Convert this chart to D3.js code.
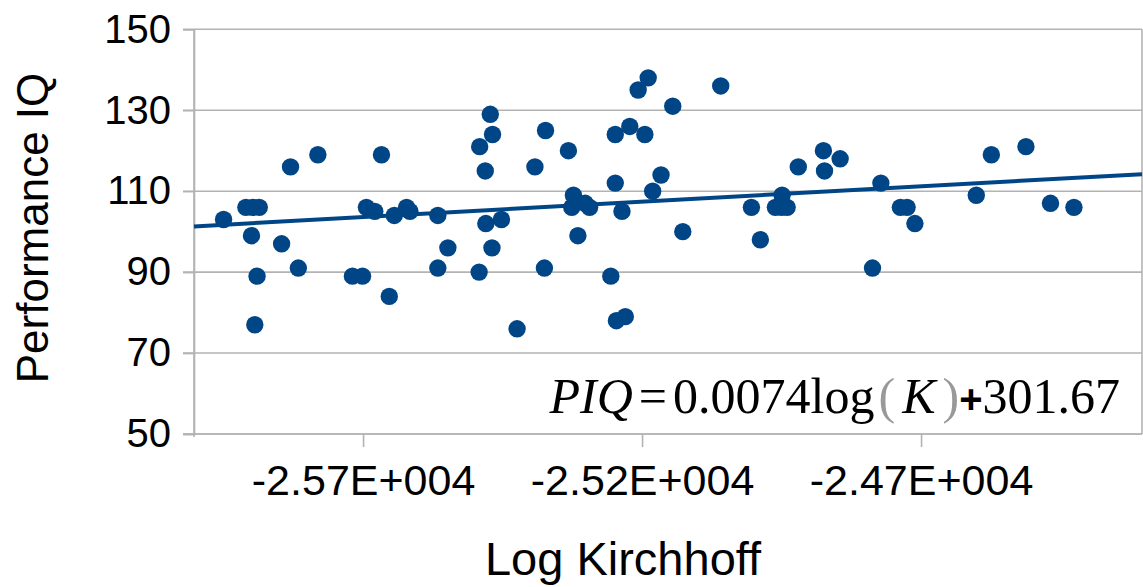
<!DOCTYPE html>
<html><head><meta charset="utf-8">
<script src="https://cdn.jsdelivr.net/npm/d3@7"></script>
<style>body{margin:0;background:#fff}</style>
</head><body>
<svg id="c" width="1143" height="587"></svg>
<script>
// ---- data ----
const logK = [-25950,-25910,-25898,-25886,-25900,-25890,-25894,-25846,-25830,-25816,
  -25781,-25719,-25701,-25694,-25679,-25667,-25653,-25644,-25622,-25616,
  -25566,-25566,-25548,-25492,-25491,-25481,-25480,-25472,-25468,-25469,
  -25452,-25424,-25392,-25375,-25373,-25332,-25323,-25326,-25315,-25302,
  -25294,-25256,-25248,-25248,-25246,-25236,-25230,-25222,-25207,-25195,
  -25189,-25181,-25166,-25145,-25127,-25059,-25004,-24988,-24961,-24950,
  -24949,-24940,-24920,-24875,-24873,-24845,-24787,-24772,-24737,-24725,
  -24711,-24601,-24574,-24512,-24468,-24426];
const piq = [103,106,106,106,99,89,77,97,116,91,
  119,89,89,106,105,119,84,104,106,105,
  104,91,96,90,121,115,102,129,124,96,
  103,76,116,91,125,120,109,106,99,107,
  106,89,112,124,78,105,79,126,135,124,
  138,110,114,131,100,136,106,98,106,106,
  109,106,116,120,115,118,91,112,106,106,
  102,109,119,121,107,106];
const xTicks = [-25700,-25200,-24700];
const xTickLabels = ["-2.57E+004","-2.52E+004","-2.47E+004"];
const yTicks = [50,70,90,110,130,150];
const trendX = [-26003,-24304];
const trendY = [101.3,114.2];
const xTitle = "Log Kirchhoff";
const yTitle = "Performance IQ";

// ---- layout ----
const L = 194, R = 1142, T = 29.3, B = 434;
const blue = "#004586", grid = "#b3b3b3";
const svg = d3.select("#c");
const x = d3.scaleLinear().domain([-26003,-24304]).range([L,R]);
const y = d3.scaleLinear().domain([50,150]).range([B,T]);

// horizontal gridlines (extend left as tick marks)
svg.append("g").selectAll("line").data(yTicks).join("line")
  .attr("x1", L-11).attr("x2", R).attr("y1", d=>y(d)).attr("y2", d=>y(d))
  .attr("stroke", grid).attr("stroke-width", 1.6);
// right border
svg.append("line").attr("x1",R).attr("x2",R).attr("y1",T).attr("y2",B)
  .attr("stroke",grid).attr("stroke-width",1.6);

// y axis
const ya = svg.append("g").attr("transform",`translate(${L},0)`)
  .call(d3.axisLeft(y).tickValues(yTicks).tickSize(11).tickPadding(12));
ya.select(".domain").attr("stroke",grid).attr("stroke-width",1.6);
ya.selectAll(".tick line").attr("stroke",grid).attr("stroke-width",1.6);
ya.selectAll("text").attr("font-family","Liberation Sans, Arial, sans-serif")
  .attr("font-size",40).attr("fill","#000");

// x axis
const xa = svg.append("g").attr("transform",`translate(0,${B})`)
  .call(d3.axisBottom(x).tickValues(xTicks).tickFormat((d,i)=>xTickLabels[i]).tickSize(13).tickPadding(17));
xa.select(".domain").remove();
xa.selectAll(".tick line").attr("stroke",grid).attr("stroke-width",1.6);
xa.selectAll("text").attr("font-family","Liberation Sans, Arial, sans-serif")
  .attr("font-size",43).attr("fill","#000");
svg.append("line").attr("x1",L-11).attr("x2",R).attr("y1",B).attr("y2",B)
  .attr("stroke",grid).attr("stroke-width",1.6);
svg.append("line").attr("x1",L).attr("x2",L).attr("y1",T).attr("y2",B+3)
  .attr("stroke",grid).attr("stroke-width",1.6);

// points
svg.append("g").selectAll("circle").data(logK).join("circle")
  .attr("cx", d=>x(d)).attr("cy", (d,i)=>y(piq[i])).attr("r", 8.7).attr("fill", blue);

// trend line
svg.append("line").attr("x1",x(trendX[0])).attr("y1",y(trendY[0]))
  .attr("x2",x(trendX[1])).attr("y2",y(trendY[1]))
  .attr("stroke",blue).attr("stroke-width",4);

// equation
const eq = svg.append("text").attr("x",1120).attr("y",413).attr("text-anchor","end")
  .attr("font-family","Liberation Serif, Times New Roman, serif").attr("font-size",50).attr("fill","#000");
eq.append("tspan").attr("font-style","italic").text("PIQ");
eq.append("tspan").attr("dx",6).text("=");
eq.append("tspan").attr("dx",6).text("0.0074log");
eq.append("tspan").attr("fill","#999").attr("dx",4).text("(");
eq.append("tspan").attr("font-style","italic").attr("dx",7).text("K");
eq.append("tspan").attr("fill","#999").attr("dx",7).text(")");
eq.append("tspan").attr("font-family","Liberation Sans, Arial, sans-serif").attr("font-weight","bold").attr("font-size",40).text("+");
eq.append("tspan").text("301.67");

// axis titles
svg.append("text").attr("x",623).attr("y",575).attr("text-anchor","middle")
  .attr("font-family","Liberation Sans, Arial, sans-serif").attr("font-size",47).text(xTitle);
svg.append("text").attr("transform","translate(48,228) rotate(-90)").attr("text-anchor","middle")
  .attr("font-family","Liberation Sans, Arial, sans-serif").attr("font-size",44).text(yTitle);
</script>
</body></html>
